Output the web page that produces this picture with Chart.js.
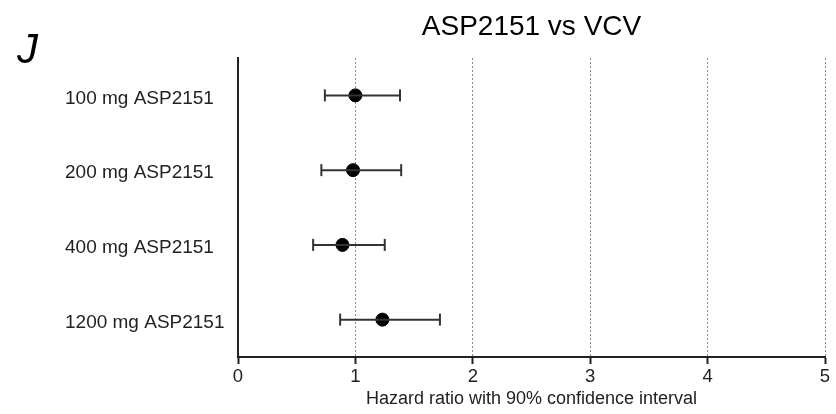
<!DOCTYPE html>
<html>
<head>
<meta charset="utf-8">
<script src="https://cdn.jsdelivr.net/npm/chart.js@4.4.1/dist/chart.umd.min.js"></script>
<style>
  html, body { margin: 0; padding: 0; background: #fff; }
  #wrap { width: 836px; height: 414px; }
</style>
</head>
<body>
<div id="wrap"><canvas id="forest"></canvas></div>
<script>
// data
const panelLetter = "J";
const chartTitle = "ASP2151 vs VCV";
const doses = ["100 mg ASP2151", "200 mg ASP2151", "400 mg ASP2151", "1200 mg ASP2151"];
const hazardRatio = [1.00, 0.98, 0.89, 1.23];
const ciLower = [0.74, 0.71, 0.64, 0.87];
const ciUpper = [1.38, 1.39, 1.25, 1.72];
const xTicks = [0, 1, 2, 3, 4, 5];
const xTitle = "Hazard ratio with 90% confidence interval";

// one line dataset per row for the whiskers, caps drawn as rotated line points
const whiskers = doses.map((d, i) => ({
    type: "line",
    data: [{ x: ciLower[i], y: d }, { x: ciUpper[i], y: d }],
    borderColor: "#333",
    borderWidth: 2,
    pointStyle: "line",
    rotation: 90,
    pointRadius: 6,
    pointBorderWidth: 2,
    pointBorderColor: "#333",
    fill: false
}));

const estimates = {
    type: "scatter",
    data: doses.map((d, i) => ({ x: hazardRatio[i], y: d })),
    backgroundColor: "#000",
    borderColor: "#000",
    pointRadius: 6.5,
    pointHoverRadius: 6.5
};

// panel letter and title centred over the plot area
const extraText = {
    id: "extraText",
    afterDraw(chart) {
        const ctx = chart.ctx;
        const area = chart.chartArea;
        ctx.save();
        ctx.fillStyle = "#000";
        ctx.font = "italic 42px Arial";
        ctx.textBaseline = "alphabetic";
        ctx.textAlign = "left";
        ctx.fillText(panelLetter, 17, 63);
        ctx.font = "28px Arial";
        ctx.textAlign = "center";
        ctx.textBaseline = "middle";
        ctx.fillText(chartTitle, (area.left + area.right) / 2, 27);
        ctx.restore();
    }
};

const ctx = document.getElementById("forest").getContext("2d");
new Chart(ctx, {
    data: {
        labels: doses,
        datasets: [...whiskers, estimates]
    },
    options: {
        responsive: true,
        maintainAspectRatio: false,
        animation: false,
        layout: { padding: { top: 58, right: 11, bottom: 0, left: 65 } },
        plugins: {
            legend: { display: false },
            tooltip: { enabled: false }
        },
        scales: {
            x: {
                type: "linear",
                min: 0,
                max: 5,
                afterBuildTicks: (scale) => {
                    scale.ticks = xTicks.map(v => ({ value: v }));
                },
                afterFit: (scale) => { scale.height = 57; },
                ticks: {
                    color: "#222",
                    font: { family: "Arial", size: 18.5 },
                    padding: 2,
                    maxRotation: 0
                },
                grid: {
                    color: (c) => (c.tick && c.tick.value === 0 ? "rgba(0,0,0,0)" : "#8a8a8a"),
                    lineWidth: 1,
                    drawTicks: true,
                    tickLength: 7,
                    tickColor: "#222",
                    tickWidth: 2,
                    tickBorderDash: []
                },
                border: { display: true, color: "#222", width: 2, dash: [2, 2] },
                title: {
                    display: true,
                    text: xTitle,
                    color: "#222",
                    font: { family: "Arial", size: 18 },
                    padding: { top: 0, bottom: 4 }
                }
            },
            y: {
                type: "category",
                labels: doses,
                offset: true,
                afterFit: (scale) => { scale.width = 173; },
                ticks: {
                    color: "#222",
                    font: { family: "Arial", size: 19 },
                    crossAlign: "far",
                    labelOffset: 3,
                    padding: 8
                },
                grid: { display: false, drawTicks: false },
                border: { display: true, color: "#222", width: 2 }
            }
        }
    },
    plugins: [extraText]
});
</script>
</body>
</html>
